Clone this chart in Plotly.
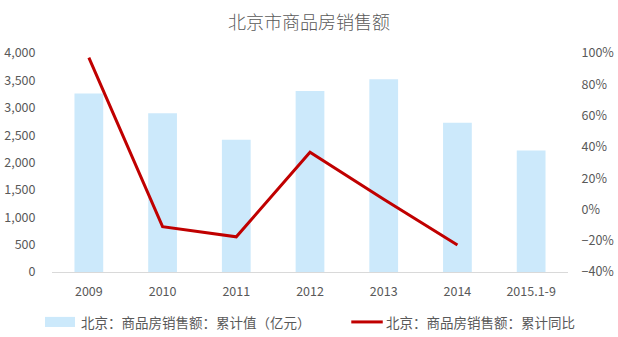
import plotly.graph_objects as go

# 北京商品房销售额：累计值（亿元）与累计同比（%）
years = ["2009", "2010", "2011", "2012", "2013", "2014", "2015.1-9"]
sales = [3260, 2900, 2415, 3305, 3520, 2725, 2218]
yoy_years = ["2009", "2010", "2011", "2012", "2013", "2014"]
yoy = [97.0, -11.0, -17.5, 36.5, 6.5, -22.8]

bar_name = "北京：商品房销售额：累计值（亿元）"
line_name = "北京：商品房销售额：累计同比"

FONT = "Noto Sans CJK SC, Microsoft YaHei, sans-serif"
GREY = "#595959"
BAR_COLOR = "#cce9fb"
LINE_COLOR = "#c00000"

fig = go.Figure()
fig.add_trace(go.Bar(
    x=years, y=sales, name=bar_name,
    marker=dict(color=BAR_COLOR, line=dict(width=0)),
    yaxis="y", showlegend=False,
))
fig.add_trace(go.Scatter(
    x=yoy_years, y=yoy, name=line_name, mode="lines",
    line=dict(color=LINE_COLOR, width=3),
    yaxis="y2", showlegend=False,
))

# hand-built legend below the plot area
legend_y = -0.228
shapes = [
    dict(type="rect", xref="paper", yref="paper",
         x0=-0.0136, x1=0.0446, y0=legend_y - 0.023, y1=legend_y + 0.023,
         fillcolor=BAR_COLOR, line=dict(width=0)),
    dict(type="line", xref="paper", yref="paper",
         x0=0.58, x1=0.641, y0=legend_y, y1=legend_y,
         line=dict(color=LINE_COLOR, width=3)),
]
annotations = [
    dict(text=bar_name, xref="paper", yref="paper", x=0.052, y=legend_y,
         xanchor="left", yanchor="middle", showarrow=False,
         font=dict(family=FONT, size=13.5, color=GREY)),
    dict(text=line_name, xref="paper", yref="paper", x=0.643, y=legend_y,
         xanchor="left", yanchor="middle", showarrow=False,
         font=dict(family=FONT, size=13.5, color=GREY)),
]

fig.update_layout(
    width=618, height=337,
    margin=dict(l=52, r=50, t=53, b=65),
    paper_bgcolor="white", plot_bgcolor="white",
    font=dict(family=FONT, color=GREY, size=12),
    title=dict(text="北京市商品房销售额", x=0.5, xanchor="center",
               y=0.932, yanchor="middle",
               font=dict(family=FONT, size=18, color=GREY, weight=300)),
    bargap=0.61,
    xaxis=dict(
        type="category", showgrid=False, showline=True, automargin=False,
        linecolor="#d9d9d9", linewidth=1,
        ticks="outside", ticklen=8, tickcolor="rgba(0,0,0,0)",
        tickfont=dict(family=FONT, size=12.5, color=GREY),
    ),
    yaxis=dict(
        range=[0, 4000], dtick=500, tickformat=",", automargin=False,
        showgrid=False, zeroline=False, showline=False,
        ticks="outside", ticklen=13, tickcolor="rgba(0,0,0,0)",
        tickfont=dict(family=FONT, size=12.5, color=GREY),
    ),
    yaxis2=dict(
        range=[-40, 100], dtick=20, ticksuffix="%", automargin=False,
        overlaying="y", side="right",
        showgrid=False, zeroline=False, showline=False,
        ticks="outside", ticklen=10, tickcolor="rgba(0,0,0,0)",
        tickfont=dict(family=FONT, size=12.5, color=GREY),
    ),
    shapes=shapes, annotations=annotations,
)

fig.write_html("out.html")
